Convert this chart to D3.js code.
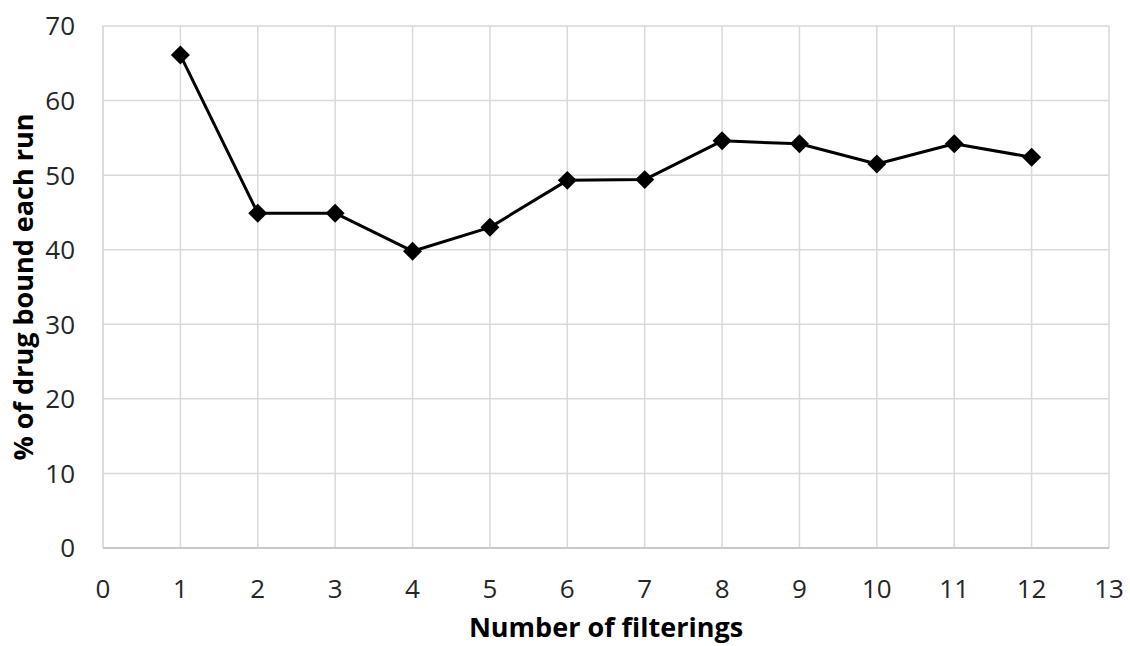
<!DOCTYPE html>
<html><head><meta charset="utf-8">
<script src="https://cdn.jsdelivr.net/npm/d3@7"></script>
<style>body{margin:0;background:#fff}svg{display:block}</style>
</head><body>
<svg id="c" width="1130" height="646"></svg>
<script>
const filterings = [1,2,3,4,5,6,7,8,9,10,11,12];
const percentBound = [66.1,44.9,44.9,39.8,43.0,49.3,49.4,54.6,54.2,51.5,54.2,52.4];
const xTicks = [0,1,2,3,4,5,6,7,8,9,10,11,12,13];
const yTicks = [0,10,20,30,40,50,60,70];
const xTitle = "Number of filterings";
const yTitle = "% of drug bound each run";

const svg = d3.select("#c");
const L=103, R=1109, T=26, B=548;
const x = d3.scaleLinear().domain([0,13]).range([L,R]);
const y = d3.scaleLinear().domain([0,70]).range([B,T]);
const font = "'Open Sans', sans-serif";

// grid
svg.append("g").selectAll("line").data(yTicks.filter(d=>d>0)).join("line")
  .attr("x1",L).attr("x2",R).attr("y1",d=>y(d)).attr("y2",d=>y(d))
  .attr("stroke","#d9d9d9").attr("stroke-width",1.5);
svg.append("g").selectAll("line").data(xTicks.filter(d=>d>0)).join("line")
  .attr("x1",d=>x(d)).attr("x2",d=>x(d)).attr("y1",T).attr("y2",B)
  .attr("stroke","#d9d9d9").attr("stroke-width",1.5);
// axes lines
svg.append("line").attr("x1",L).attr("x2",R).attr("y1",B).attr("y2",B).attr("stroke","#c8c8c8").attr("stroke-width",2);
svg.append("line").attr("x1",L).attr("x2",L).attr("y1",T).attr("y2",B).attr("stroke","#d0d0d0").attr("stroke-width",1.5);

// tick labels
svg.append("g").selectAll("text").data(yTicks).join("text")
  .attr("x",75).attr("y",d=>y(d)).attr("dy","0.36em").attr("text-anchor","end")
  .attr("font-family",font).attr("font-size",26).attr("fill","#262626").text(d=>d);
svg.append("g").selectAll("text").data(xTicks).join("text")
  .attr("x",d=>x(d)).attr("y",598).attr("text-anchor","middle")
  .attr("font-family",font).attr("font-size",26).attr("fill","#262626").text(d=>d);

// titles
svg.append("text").attr("x",(L+R)/2).attr("y",637).attr("text-anchor","middle")
  .attr("font-family",font).attr("font-size",27).attr("font-weight","bold").attr("fill","#000").text(xTitle);
svg.append("text").attr("transform",`translate(33,${(T+B)/2}) rotate(-90)`).attr("text-anchor","middle")
  .attr("font-family",font).attr("font-size",27).attr("font-weight","bold").attr("fill","#000").text(yTitle);

const data = filterings.map((f,i)=>({f, v:percentBound[i]}));
svg.append("path").datum(data)
  .attr("d", d3.line().x(d=>x(d.f)).y(d=>y(d.v)))
  .attr("fill","none").attr("stroke","#000").attr("stroke-width",3).attr("stroke-linejoin","round");
svg.append("g").selectAll("path").data(data).join("path")
  .attr("d", d3.symbol(d3.symbolSquare, 180))
  .attr("transform", d=>`translate(${x(d.f)},${y(d.v)}) rotate(45)`)
  .attr("fill","#000");
</script>
</body></html>
